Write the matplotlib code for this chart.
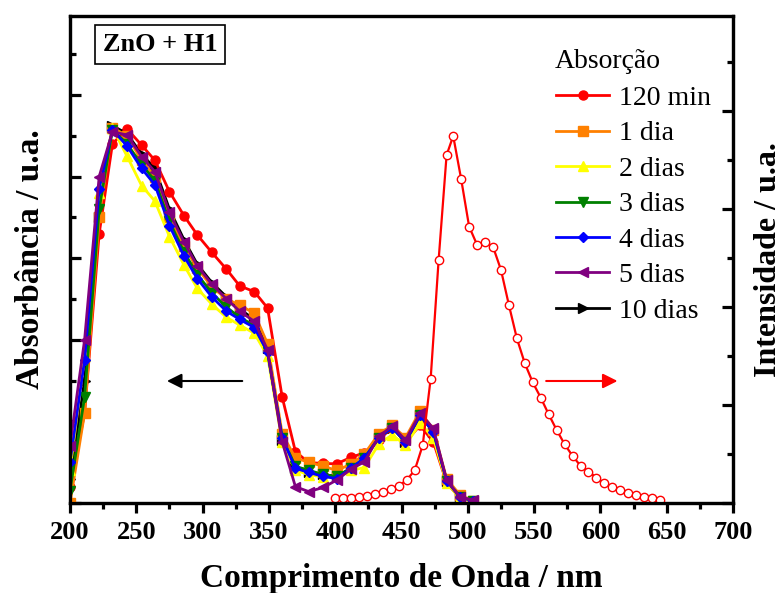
import matplotlib
matplotlib.use("Agg")
import matplotlib.pyplot as plt
from matplotlib.ticker import MultipleLocator

plt.rcParams['font.family'] = ['Liberation Serif', 'DejaVu Serif']

# absorption spectra (left axis)
wl_abs = [200, 211, 222, 232, 243, 254, 264, 275, 286, 296, 307, 318, 328, 339, 349,
          360, 370, 380, 391, 401, 412, 422, 433, 443, 453, 464, 474, 484, 494, 504]

abs_120min = [0.04, 0.22, 0.66, 0.88, 0.917, 0.877, 0.84, 0.763, 0.704, 0.657, 0.614, 0.573, 0.532, 0.518, 0.478,
              0.26, 0.126, 0.099, 0.097, 0.096, 0.112, 0.123, 0.155, 0.185, 0.15, 0.19, 0.15, 0.05, 0.012, 0.004]
abs_1dia = [0.0, 0.22, 0.70, 0.92, 0.90, 0.84, 0.80, 0.70, 0.63, 0.575, 0.53, 0.50, 0.485, 0.465, 0.39,
            0.17, 0.11, 0.10, 0.09, 0.08, 0.095, 0.12, 0.17, 0.19, 0.16, 0.225, 0.18, 0.06, 0.02, 0.005]
abs_2dias = [0.08, 0.36, 0.76, 0.92, 0.85, 0.778, 0.74, 0.653, 0.583, 0.526, 0.487, 0.455, 0.436, 0.416, 0.36,
             0.15, 0.081, 0.069, 0.064, 0.065, 0.08, 0.087, 0.145, 0.167, 0.142, 0.195, 0.16, 0.05, 0.012, 0.004]
abs_3dias = [0.03, 0.26, 0.72, 0.915, 0.88, 0.83, 0.79, 0.69, 0.615, 0.56, 0.515, 0.48, 0.455, 0.435, 0.37,
             0.16, 0.09, 0.08, 0.07, 0.065, 0.085, 0.11, 0.16, 0.185, 0.15, 0.215, 0.175, 0.055, 0.015, 0.005]
abs_4dias = [0.10, 0.35, 0.77, 0.915, 0.875, 0.82, 0.78, 0.68, 0.605, 0.55, 0.505, 0.47, 0.45, 0.43, 0.37,
             0.16, 0.085, 0.075, 0.065, 0.06, 0.085, 0.11, 0.16, 0.185, 0.15, 0.215, 0.175, 0.055, 0.015, 0.005]
abs_5dias = [0.14, 0.40, 0.80, 0.91, 0.902, 0.849, 0.812, 0.712, 0.639, 0.581, 0.536, 0.50, 0.47, 0.445, 0.375,
             0.15, 0.04, 0.028, 0.038, 0.056, 0.083, 0.101, 0.163, 0.189, 0.154, 0.22, 0.183, 0.056, 0.015, 0.007]
abs_10dias = [0.06, 0.30, 0.70, 0.925, 0.905, 0.855, 0.82, 0.72, 0.645, 0.585, 0.54, 0.505, 0.475, 0.45, 0.38,
              0.155, 0.085, 0.075, 0.07, 0.065, 0.085, 0.11, 0.16, 0.185, 0.15, 0.215, 0.175, 0.055, 0.015, 0.005]

labels = ['120 min', '1 dia', '2 dias', '3 dias', '4 dias', '5 dias', '10 dias']
colors = ['#ff0000', '#ff8000', '#ffff00', '#008000', '#0000ff', '#800080', '#000000']
markers = ['o', 's', '^', 'v', 'D', '<', '>']

# emission spectrum (right axis)
wl_em = [400, 406, 412, 418, 424, 430, 436, 442, 448, 454, 460, 466, 472, 478, 484, 489, 495, 501, 507, 513, 519,
         525, 531, 537, 543, 549, 555, 561, 567, 573, 579, 585, 591, 597, 603, 609, 615, 621, 627, 633, 639, 645]
em = [0.01, 0.01, 0.011, 0.013, 0.015, 0.018, 0.023, 0.028, 0.035, 0.047, 0.067, 0.118, 0.254, 0.496, 0.710,
      0.749, 0.661, 0.564, 0.527, 0.533, 0.523, 0.476, 0.404, 0.336, 0.285, 0.246, 0.215, 0.181, 0.149, 0.120,
      0.096, 0.076, 0.064, 0.052, 0.040, 0.033, 0.027, 0.021, 0.016, 0.013, 0.010, 0.006]

fig = plt.figure(figsize=(7.83, 5.93), dpi=100)
ax = fig.add_axes([70 / 783, 90 / 593, 663 / 783, 487 / 593])
ax2 = ax.twinx()

series = [abs_120min, abs_1dia, abs_2dias, abs_3dias, abs_4dias, abs_5dias, abs_10dias]
zorders = [3, 3.1, 3.2, 3.3, 3.4, 3.6, 2.9]
for ys, lab, c, m, z in zip(series, labels, colors, markers, zorders):
    ms = 5 if m == 'D' else 6.5
    ax.plot(wl_abs, ys, color=c, marker=m, markersize=ms, lw=2, label=lab, zorder=z)

ax2.plot(wl_em, em, color='#ff0000', marker='o', markersize=6, markerfacecolor='white',
         markeredgecolor='#ff0000', markeredgewidth=1.0, lw=1.6)

ax.set_xlim(200, 700)
ax.set_ylim(0, 1.1936)
ax2.set_ylim(0, 0.9939)

ax.xaxis.set_major_locator(MultipleLocator(50))
ax.xaxis.set_minor_locator(MultipleLocator(25))
ax.yaxis.set_major_locator(MultipleLocator(0.2))
ax.yaxis.set_minor_locator(MultipleLocator(0.1))
ax2.yaxis.set_major_locator(MultipleLocator(0.2))
ax2.yaxis.set_minor_locator(MultipleLocator(0.1))

for a in (ax, ax2):
    for s in a.spines.values():
        s.set_linewidth(2.3)

ax.tick_params(axis='x', which='major', direction='out', length=7, width=2.3, labelsize=19, pad=6)
ax.tick_params(axis='x', which='minor', direction='out', length=4, width=2.3)
ax.tick_params(axis='y', which='major', direction='in', length=8, width=2.3, labelleft=False)
ax.tick_params(axis='y', which='minor', direction='in', length=4, width=2.3)
ax2.tick_params(axis='y', which='major', direction='in', length=8, width=2.3, labelright=False)
ax2.tick_params(axis='y', which='minor', direction='in', length=4, width=2.3)
for t in ax.get_xticklabels():
    t.set_fontweight('bold')

ax.set_xlabel('Comprimento de Onda / nm', fontsize=24, fontweight='bold', labelpad=14)
ax.set_ylabel('Absorbância / u.a.', fontsize=24, fontweight='bold', labelpad=14)
ax2.set_ylabel('Intensidade / u.a.', fontsize=23, fontweight='bold', rotation=90, labelpad=12)

ax.text(0.136, 0.9415, 'ZnO + H1', transform=ax.transAxes, ha='center', va='center',
        fontsize=19, fontweight='bold',
        bbox=dict(boxstyle='square,pad=0.3', facecolor='white', edgecolor='black', lw=1.2))

# arrows pointing to the axis of each spectrum
ax.annotate('', xy=(271, 0.299), xytext=(332, 0.299),
            arrowprops=dict(arrowstyle='-|>', color='black', lw=1.5, mutation_scale=22))
ax2.annotate('', xy=(615, 0.249), xytext=(557, 0.249),
             arrowprops=dict(arrowstyle='-|>', color='#ff0000', lw=1.5, mutation_scale=22))

fig.text(555 / 783, 1 - 61 / 593, 'Absorção', ha='left', va='center', fontsize=20)
leg = ax.legend(loc='upper left', bbox_to_anchor=(537 / 783, 1 - 66 / 593),
                bbox_transform=fig.transFigure, frameon=False, fontsize=20,
                handlelength=1.9, handletextpad=0.35, labelspacing=0.36,
                borderpad=0.2)
leg.set_zorder(10)

fig.savefig('out.png', dpi=100)
